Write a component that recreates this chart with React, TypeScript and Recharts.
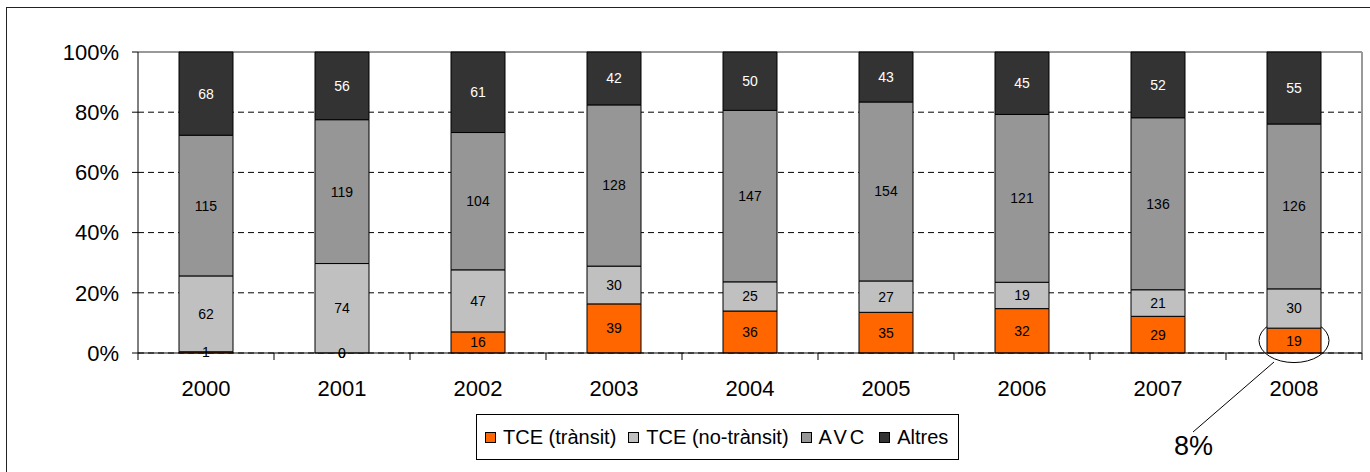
import React from "react"
import {
  Bar,
  BarChart,
  CartesianGrid,
  LabelList,
  Legend,
  Rectangle,
  XAxis,
  YAxis,
} from "recharts"

const years = ["2000", "2001", "2002", "2003", "2004", "2005", "2006", "2007", "2008"]
const tceTransit = [1, 0, 16, 39, 36, 35, 32, 29, 19]
const tceNoTransit = [62, 74, 47, 30, 25, 27, 19, 21, 30]
const avc = [115, 119, 104, 128, 147, 154, 121, 136, 126]
const altres = [68, 56, 61, 42, 50, 43, 45, 52, 55]
const yTicks = [0, 0.2, 0.4, 0.6, 0.8, 1]
const calloutYear = "2008"
const calloutText = "8%"

const series = [
  { key: "tceTransit", name: "TCE (trànsit)", color: "#FF6600", text: "#000" },
  { key: "tceNoTransit", name: "TCE (no-trànsit)", color: "#C0C0C0", text: "#000" },
  { key: "avc", name: "AVC", color: "#969696", text: "#000" },
  { key: "altres", name: "Altres", color: "#333333", text: "#fff" },
]

const data = years.map((year, i) => ({
  year,
  tceTransit: tceTransit[i],
  tceNoTransit: tceNoTransit[i],
  avc: avc[i],
  altres: altres[i],
}))

const FONT = "'Liberation Sans', Arial, sans-serif"
const W = 1370
const H = 472
const PLOT_LEFT = 138
const PLOT_RIGHT = 1362
const BAND = (PLOT_RIGHT - PLOT_LEFT) / years.length

function box(props: any) {
  const vb = props.viewBox && props.viewBox.x != null ? props.viewBox : props
  return { x: Number(vb.x), y: Number(vb.y), width: Number(vb.width), height: Number(vb.height) }
}

function YearTick(props: any) {
  const { x, y, payload, index } = props
  const half = BAND / 2
  return (
    <g>
      <line x1={x - half} x2={x - half} y1={y} y2={y + 7} stroke="#000" />
      {index === years.length - 1 && (
        <line x1={x + half} x2={x + half} y1={y} y2={y + 7} stroke="#000" />
      )}
      <text x={x} y={y + 43} textAnchor="middle" fontSize={22} fontFamily={FONT} fill="#000">
        {payload.value}
      </text>
    </g>
  )
}

function makeValueLabel(color: string) {
  return function ValueLabel(props: any) {
    const { x, y, width, height } = box(props)
    if (!isFinite(x) || !isFinite(y)) return null
    return (
      <text
        x={x + width / 2}
        y={y + height / 2}
        dy="0.355em"
        textAnchor="middle"
        fontSize={14}
        fontFamily={FONT}
        fill={color}
      >
        {props.value}
      </text>
    )
  }
}

// orange segment: plain rect, plus the circled call-out on the chosen year
function TransitShape(props: any) {
  const { x, y, width, height, payload } = props
  const isCallout = payload && payload.year === calloutYear
  const cx = x + width / 2
  const cy = y + height / 2
  return (
    <g>
      <Rectangle {...props} />
      {payload && payload.tceTransit === 0 && (
        <text x={cx} y={y + height} dy="0.355em" textAnchor="middle" fontSize={14} fontFamily={FONT} fill="#000">
          0
        </text>
      )}
      {isCallout && (
        <g>
          <ellipse cx={cx} cy={cy} rx={width / 2 + 8} ry={22} fill="none" stroke="#000" strokeWidth={1} />
          <line x1={x + 7} y1={y + height + 9} x2={x - 74} y2={y + height + 79} stroke="#000" />
          <text x={x - 93} y={y + height + 102} fontSize={27} fontFamily={FONT} fill="#000">
            {calloutText}
          </text>
        </g>
      )}
    </g>
  )
}

function LegendBox() {
  return (
    <div
      style={{
        border: "1px solid #000",
        background: "#fff",
        display: "flex",
        alignItems: "center",
        height: 44,
        padding: "0 10px 0 8px",
        gap: 12,
        fontFamily: FONT,
        fontSize: 20,
        color: "#000",
        whiteSpace: "nowrap",
      }}
    >
      {series.map((s) => (
        <div key={s.key} style={{ display: "flex", alignItems: "center", gap: 7 }}>
          <span
            style={{
              display: "inline-block",
              width: 9,
              height: 9,
              background: s.color,
              border: "1px solid #000",
            }}
          />
          <span style={{ letterSpacing: s.key === "avc" ? 3 : 0 }}>{s.name}</span>
        </div>
      ))}
    </div>
  )
}

export default function App() {
  return (
    <div style={{ position: "absolute", left: 0, top: 0, width: W, height: H, overflow: "hidden", background: "#fff" }}>
      <div
        style={{
          position: "absolute",
          left: 6,
          top: 7,
          width: W + 20,
          height: H + 20,
          border: "1.5px solid #222",
          boxSizing: "border-box",
        }}
      />
      <BarChart
        width={W}
        height={H}
        data={data}
        stackOffset="expand"
        barSize={54}
        margin={{ top: 52, right: W - PLOT_RIGHT, left: 0, bottom: 79 }}
        style={{ position: "absolute", left: 0, top: 0 }}
      >
        <CartesianGrid vertical={false} stroke="#000" strokeDasharray="6 4" />
        <CartesianGrid
          stroke="#999"
          strokeWidth={2}
          horizontalCoordinatesGenerator={({ offset }: any) => [offset.top]}
          verticalCoordinatesGenerator={({ offset }: any) => [offset.left + offset.width]}
        />
        <XAxis
          dataKey="year"
          axisLine={{ stroke: "#000" }}
          tickLine={false}
          tickSize={0}
          tickMargin={0}
          height={40}
          interval={0}
          tick={<YearTick />}
        />
        <YAxis
          width={PLOT_LEFT}
          domain={[0, 1]}
          ticks={yTicks}
          tickFormatter={(v: number) => `${Math.round(v * 100)}%`}
          tickSize={6}
          tickMargin={13}
          axisLine={{ stroke: "#000" }}
          tickLine={{ stroke: "#000" }}
          tick={{ fill: "#000", fontSize: 22, fontFamily: FONT }}
        />
        {series.map((s) => (
          <Bar
            key={s.key}
            dataKey={s.key}
            name={s.name}
            stackId="a"
            fill={s.color}
            stroke="#000"
            strokeWidth={1}
            isAnimationActive={false}
            shape={s.key === "tceTransit" ? TransitShape : undefined}
          >
            <LabelList dataKey={s.key} content={makeValueLabel(s.text)} />
          </Bar>
        ))}
        <Legend
          layout="horizontal"
          verticalAlign="middle"
          align="center"
          content={<LegendBox />}
          wrapperStyle={{ left: 476, top: 414, width: "auto", height: "auto" }}
        />
      </BarChart>
    </div>
  )
}
